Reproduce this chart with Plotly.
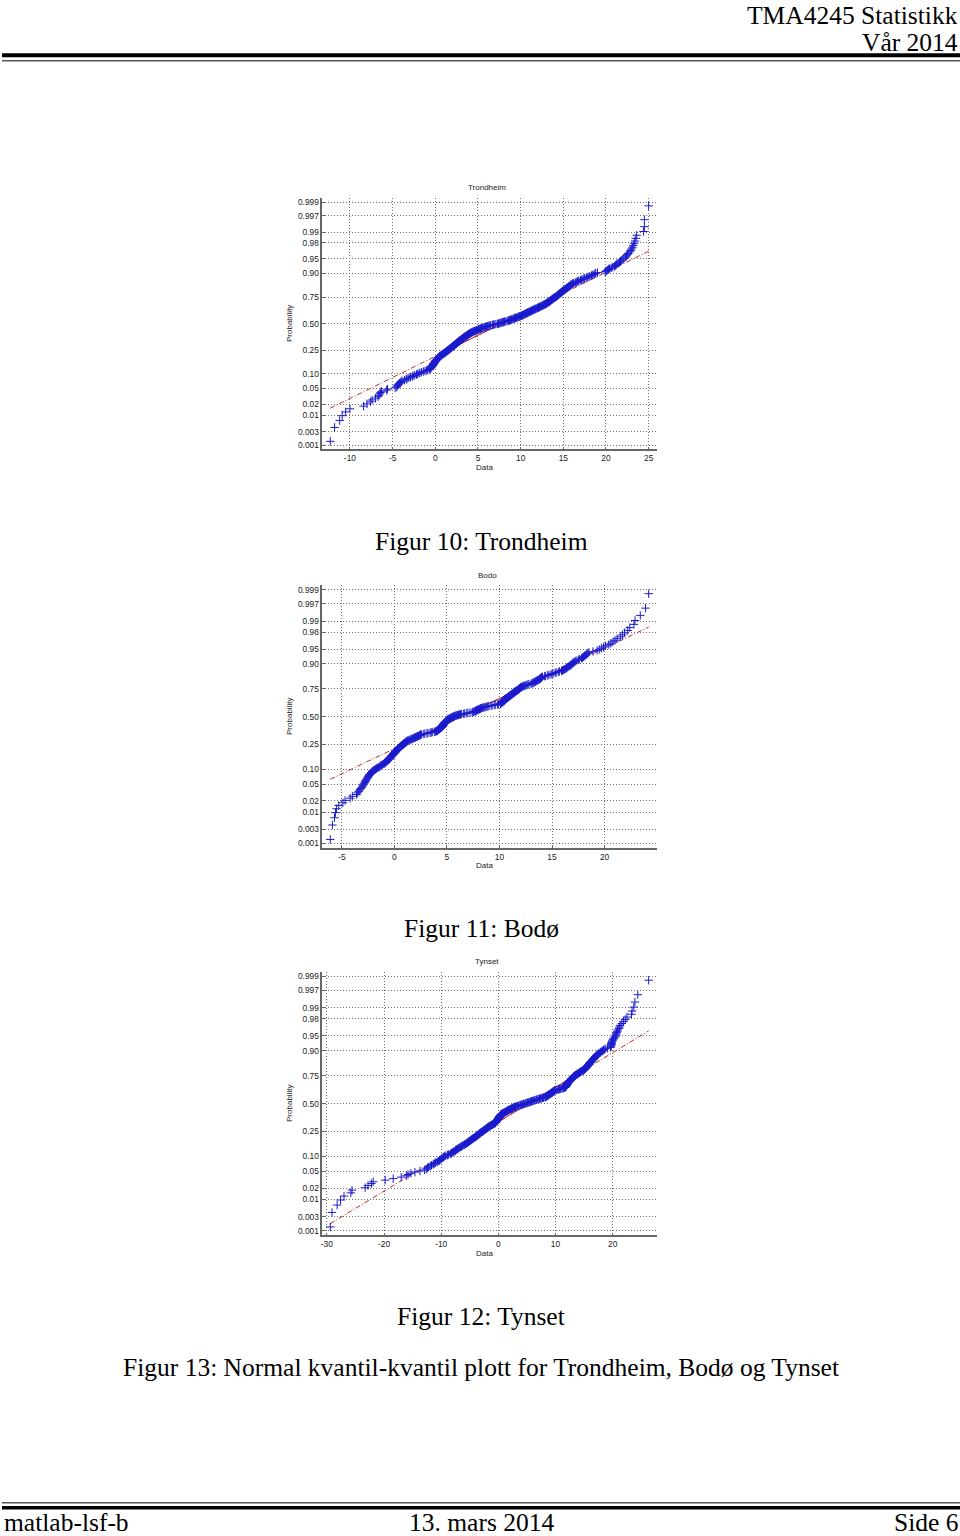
import numpy as np
import plotly.graph_objects as go
from statistics import NormalDist

# ---------------- data (sorted daily values) ----------------
trondheim = [
    -12.3, -11.8, -11.2, -10.9, -10.5, -10.0, -8.4, -8.0, -7.6, -7.4,
    -7.0, -6.7, -6.6, -6.5, -6.4, -6.3, -5.7, -5.6, -4.7, -4.5,
    -4.5, -4.4, -4.3, -4.2, -4.1, -4.0, -3.9, -3.6, -3.4, -3.3,
    -3.1, -2.9, -2.7, -2.6, -2.4, -2.2, -2.1, -1.9, -1.8, -1.6,
    -1.4, -1.2, -1.0, -0.9, -0.7, -0.6, -0.6, -0.5, -0.5, -0.4,
    -0.4, -0.3, -0.3, -0.3, -0.2, -0.2, -0.2, -0.1, -0.1, -0.1,
    0.0, 0.0, 0.0, 0.1, 0.1, 0.2, 0.2, 0.3, 0.3, 0.3,
    0.4, 0.4, 0.5, 0.5, 0.5, 0.6, 0.7, 0.7, 0.8, 0.9,
    0.9, 1.0, 1.1, 1.1, 1.2, 1.2, 1.3, 1.3, 1.4, 1.4,
    1.5, 1.5, 1.6, 1.6, 1.7, 1.7, 1.8, 1.8, 1.9, 1.9,
    2.0, 2.0, 2.1, 2.1, 2.2, 2.2, 2.2, 2.3, 2.3, 2.4,
    2.4, 2.5, 2.5, 2.5, 2.6, 2.6, 2.7, 2.7, 2.8, 2.8,
    2.8, 2.9, 2.9, 3.0, 3.0, 3.1, 3.1, 3.2, 3.2, 3.3,
    3.3, 3.3, 3.4, 3.4, 3.5, 3.5, 3.6, 3.6, 3.7, 3.7,
    3.8, 3.8, 3.9, 3.9, 4.0, 4.0, 4.1, 4.1, 4.2, 4.2,
    4.3, 4.4, 4.4, 4.5, 4.6, 4.7, 4.8, 4.8, 4.9, 5.0,
    5.1, 5.1, 5.2, 5.3, 5.4, 5.4, 5.5, 5.6, 5.7, 5.8,
    5.9, 6.0, 6.1, 6.2, 6.3, 6.4, 6.5, 6.7, 6.8, 6.9,
    7.1, 7.3, 7.4, 7.5, 7.6, 7.7, 7.8, 7.9, 8.0, 8.1,
    8.2, 8.4, 8.5, 8.6, 8.7, 8.8, 8.8, 8.9, 9.0, 9.1,
    9.2, 9.3, 9.3, 9.4, 9.5, 9.6, 9.7, 9.8, 9.8, 9.9,
    10.0, 10.1, 10.2, 10.2, 10.3, 10.4, 10.4, 10.5, 10.6, 10.6,
    10.7, 10.8, 10.8, 10.9, 11.0, 11.0, 11.1, 11.2, 11.2, 11.3,
    11.4, 11.4, 11.5, 11.6, 11.7, 11.7, 11.8, 11.9, 12.0, 12.0,
    12.1, 12.2, 12.2, 12.3, 12.4, 12.5, 12.5, 12.6, 12.7, 12.7,
    12.8, 12.9, 12.9, 13.0, 13.0, 13.1, 13.2, 13.2, 13.3, 13.3,
    13.4, 13.4, 13.5, 13.5, 13.6, 13.6, 13.7, 13.7, 13.8, 13.8,
    13.9, 13.9, 14.0, 14.1, 14.1, 14.2, 14.2, 14.3, 14.3, 14.4,
    14.4, 14.5, 14.5, 14.6, 14.6, 14.7, 14.7, 14.8, 14.8, 14.9,
    14.9, 15.0, 15.1, 15.1, 15.2, 15.2, 15.3, 15.4, 15.4, 15.5,
    15.6, 15.6, 15.7, 15.8, 15.8, 15.9, 15.9, 16.0, 16.1, 16.2,
    16.4, 16.5, 16.6, 16.7, 16.8, 17.0, 17.1, 17.2, 17.4, 17.5,
    17.7, 17.8, 18.0, 18.1, 18.3, 18.4, 18.6, 18.7, 18.8, 19.0,
    19.9, 20.0, 20.1, 20.2, 20.3, 20.4, 20.6, 20.8, 21.0, 21.1,
    21.2, 21.3, 21.5, 21.6, 21.7, 21.8, 22.0, 22.1, 22.3, 22.4,
    22.5, 22.6, 22.8, 22.9, 23.0, 23.1, 23.2, 23.3, 23.4, 23.5,
    23.6, 24.4, 24.5, 24.5, 25.0,
]

bodo = [
    -6.1, -5.9, -5.7, -5.6, -5.5, -5.3, -4.9, -4.7, -4.2, -4.0,
    -3.6, -3.5, -3.4, -3.3, -3.2, -3.1, -3.0, -3.0, -2.9, -2.8,
    -2.8, -2.7, -2.7, -2.6, -2.6, -2.5, -2.5, -2.4, -2.4, -2.3,
    -2.2, -2.2, -2.1, -2.1, -2.0, -1.9, -1.8, -1.7, -1.6, -1.5,
    -1.4, -1.3, -1.3, -1.2, -1.1, -1.0, -0.9, -0.9, -0.8, -0.8,
    -0.7, -0.7, -0.6, -0.6, -0.5, -0.5, -0.4, -0.4, -0.4, -0.3,
    -0.3, -0.3, -0.2, -0.2, -0.1, -0.1, -0.1, 0.0, 0.0, 0.0,
    0.1, 0.1, 0.1, 0.1, 0.2, 0.2, 0.3, 0.3, 0.3, 0.4,
    0.4, 0.5, 0.5, 0.5, 0.6, 0.6, 0.7, 0.7, 0.7, 0.8,
    0.8, 0.9, 0.9, 0.9, 1.0, 1.0, 1.1, 1.1, 1.1, 1.2,
    1.2, 1.3, 1.3, 1.4, 1.5, 1.6, 1.6, 1.7, 1.8, 1.8,
    1.9, 2.0, 2.0, 2.1, 2.2, 2.2, 2.3, 2.4, 2.4, 2.5,
    2.5, 2.6, 2.8, 2.9, 3.1, 3.2, 3.4, 3.5, 3.6, 3.8,
    3.9, 4.0, 4.0, 4.1, 4.1, 4.1, 4.2, 4.2, 4.3, 4.3,
    4.3, 4.4, 4.4, 4.4, 4.5, 4.5, 4.5, 4.5, 4.6, 4.6,
    4.6, 4.6, 4.6, 4.7, 4.7, 4.7, 4.7, 4.7, 4.8, 4.8,
    4.8, 4.8, 4.8, 4.9, 4.9, 4.9, 5.0, 5.0, 5.0, 5.0,
    5.1, 5.1, 5.1, 5.2, 5.2, 5.3, 5.3, 5.4, 5.4, 5.5,
    5.5, 5.6, 5.6, 5.7, 5.7, 5.8, 5.9, 6.0, 6.1, 6.2,
    6.3, 6.4, 6.6, 6.7, 6.9, 7.0, 7.2, 7.4, 7.5, 7.5,
    7.6, 7.7, 7.7, 7.8, 7.8, 7.9, 7.9, 8.0, 8.1, 8.1,
    8.2, 8.2, 8.3, 8.4, 8.5, 8.6, 8.7, 8.8, 8.9, 9.0,
    9.2, 9.3, 9.5, 9.6, 9.8, 9.9, 10.1, 10.1, 10.1, 10.2,
    10.2, 10.2, 10.3, 10.3, 10.3, 10.4, 10.4, 10.4, 10.5, 10.5,
    10.5, 10.5, 10.6, 10.6, 10.6, 10.7, 10.7, 10.8, 10.8, 10.8,
    10.9, 10.9, 11.0, 11.0, 11.0, 11.1, 11.1, 11.2, 11.2, 11.2,
    11.3, 11.3, 11.4, 11.4, 11.4, 11.5, 11.5, 11.6, 11.6, 11.7,
    11.7, 11.8, 11.8, 11.9, 11.9, 11.9, 12.0, 12.0, 12.1, 12.1,
    12.2, 12.3, 12.4, 12.5, 12.6, 12.7, 12.8, 13.0, 13.1, 13.2,
    13.2, 13.3, 13.4, 13.4, 13.5, 13.6, 13.6, 13.7, 13.8, 13.8,
    13.9, 13.9, 14.0, 14.0, 14.1, 14.3, 14.4, 14.6, 14.7, 14.9,
    15.0, 15.1, 15.3, 15.4, 15.6, 15.7, 15.9, 16.0, 16.1, 16.2,
    16.3, 16.4, 16.4, 16.5, 16.6, 16.7, 16.8, 16.8, 16.9, 17.0,
    17.0, 17.1, 17.2, 17.3, 17.5, 17.6, 17.8, 17.9, 18.0, 18.1,
    18.2, 18.3, 18.4, 18.5, 18.9, 19.3, 19.5, 19.7, 19.9, 20.1,
    20.4, 20.6, 20.8, 21.0, 21.2, 21.5, 21.7, 21.9, 22.2, 22.4,
    22.8, 22.9, 23.4, 23.9, 24.2,
]

tynset = [
    -29.4, -29.1, -28.2, -27.6, -27.0, -25.8, -25.6, -23.3, -22.8, -22.2,
    -21.9, -19.8, -18.4, -17.0, -16.1, -15.8, -15.3, -14.6, -13.7, -12.9,
    -12.6, -12.4, -12.2, -11.9, -11.7, -11.4, -11.2, -11.0, -10.7, -10.5,
    -10.3, -10.2, -10.0, -9.9, -9.7, -9.6, -9.4, -9.2, -8.9, -8.7,
    -8.4, -8.2, -8.1, -7.9, -7.8, -7.6, -7.5, -7.4, -7.3, -7.1,
    -7.0, -6.9, -6.7, -6.6, -6.4, -6.3, -6.2, -6.0, -5.9, -5.7,
    -5.6, -5.5, -5.4, -5.3, -5.2, -5.1, -5.0, -4.9, -4.8, -4.7,
    -4.6, -4.5, -4.4, -4.3, -4.2, -4.1, -4.0, -3.9, -3.8, -3.7,
    -3.7, -3.6, -3.5, -3.4, -3.3, -3.2, -3.2, -3.1, -3.0, -2.9,
    -2.8, -2.7, -2.6, -2.6, -2.5, -2.4, -2.3, -2.2, -2.1, -2.1,
    -2.0, -1.9, -1.8, -1.8, -1.7, -1.6, -1.5, -1.4, -1.3, -1.2,
    -1.1, -1.0, -0.9, -0.8, -0.7, -0.6, -0.6, -0.5, -0.5, -0.4,
    -0.4, -0.4, -0.3, -0.3, -0.2, -0.2, -0.2, -0.1, -0.1, 0.0,
    0.0, 0.0, 0.1, 0.1, 0.1, 0.2, 0.2, 0.2, 0.3, 0.3,
    0.3, 0.4, 0.4, 0.5, 0.5, 0.5, 0.6, 0.7, 0.8, 0.9,
    1.0, 1.1, 1.2, 1.3, 1.4, 1.5, 1.5, 1.6, 1.7, 1.8,
    1.9, 2.0, 2.1, 2.2, 2.3, 2.4, 2.5, 2.6, 2.7, 2.8,
    2.9, 3.0, 3.2, 3.3, 3.5, 3.6, 3.8, 3.9, 4.1, 4.2,
    4.4, 4.5, 4.7, 4.8, 5.0, 5.1, 5.3, 5.4, 5.6, 5.7,
    5.8, 6.0, 6.1, 6.3, 6.4, 6.6, 6.7, 6.9, 7.1, 7.2,
    7.4, 7.6, 7.7, 7.9, 8.0, 8.2, 8.3, 8.4, 8.4, 8.5,
    8.6, 8.7, 8.8, 8.8, 8.9, 9.0, 9.1, 9.1, 9.2, 9.3,
    9.4, 9.4, 9.5, 9.6, 9.6, 9.7, 9.8, 9.8, 9.9, 10.1,
    10.3, 10.5, 10.7, 10.9, 11.1, 11.3, 11.4, 11.6, 11.7, 11.7,
    11.8, 11.8, 11.8, 11.9, 11.9, 11.9, 12.0, 12.0, 12.0, 12.1,
    12.1, 12.1, 12.2, 12.2, 12.2, 12.3, 12.4, 12.4, 12.5, 12.5,
    12.6, 12.7, 12.7, 12.8, 12.8, 12.9, 12.9, 13.0, 13.1, 13.1,
    13.2, 13.2, 13.3, 13.3, 13.4, 13.5, 13.6, 13.7, 13.8, 13.9,
    14.0, 14.1, 14.2, 14.3, 14.4, 14.5, 14.6, 14.8, 14.9, 15.0,
    15.0, 15.1, 15.2, 15.2, 15.3, 15.4, 15.4, 15.5, 15.6, 15.6,
    15.7, 15.8, 15.8, 15.9, 15.9, 16.0, 16.0, 16.1, 16.2, 16.3,
    16.4, 16.4, 16.5, 16.6, 16.7, 16.8, 16.8, 16.9, 17.0, 17.1,
    17.2, 17.2, 17.3, 17.5, 17.6, 17.8, 17.9, 18.1, 18.2, 18.4,
    18.5, 18.7, 19.1, 19.6, 19.7, 19.7, 19.7, 19.8, 19.8, 19.8,
    19.9, 19.9, 20.0, 20.1, 20.2, 20.4, 20.5, 20.6, 20.6, 20.7,
    20.8, 20.9, 21.1, 21.2, 21.3, 21.6, 21.9, 22.2, 22.5, 23.3,
    23.4, 23.7, 23.9, 24.4, 26.3,
]

series = [trondheim, bodo, tynset]
plot_titles = ["Trondheim", "Bodo", "Tynset"]
captions = ["Figur 10: Trondheim", "Figur 11: Bodø", "Figur 12: Tynset"]
main_caption = "Figur 13: Normal kvantil-kvantil plott for Trondheim, Bodø og Tynset"
x_ticks = [
    [-10, -5, 0, 5, 10, 15, 20, 25],
    [-5, 0, 5, 10, 15, 20],
    [-30, -20, -10, 0, 10, 20],
]
x_tick_labels = [[str(v) for v in t] for t in x_ticks]   # plain hyphen minus, as in MATLAB
prob_ticks = [0.001, 0.003, 0.01, 0.02, 0.05, 0.10, 0.25, 0.50,
              0.75, 0.90, 0.95, 0.98, 0.99, 0.997, 0.999]
prob_labels = ["0.001", "0.003", "0.01", "0.02", "0.05", "0.10", "0.25", "0.50",
               "0.75", "0.90", "0.95", "0.98", "0.99", "0.997", "0.999"]
header_texts = ["TMA4245 Statistikk", "Vår 2014"]
footer_texts = ["matlab-lsf-b", "13. mars 2014", "Side 6"]

# ---------------- layout (pixels on the 960x1536 page) ----------------
W, H = 960, 1536
AX_LEFT, AX_RIGHT = 321, 656
AX_BOXES = [(197, 449), (585, 848), (972, 1236)]   # (top, bottom)
CAPTION_Y = [541, 929, 1317]
MAIN_CAPTION_Y = 1368

SERIF = "Liberation Serif, Times New Roman, serif"
SANS = "Liberation Sans, Arial, sans-serif"
TXT = "#1a1a1a"
GRID = "#6e6e6e"
AXC = "#666666"
BLUE = "rgb(28,28,205)"
RED = "rgb(195,40,40)"
PAGE_FONT = 25.5

def px(x):
    return x / W

def py(y):
    return 1 - y / H

nd = NormalDist()
fig = go.Figure()
annotations = []

for i, (vals, title) in enumerate(zip(series, plot_titles)):
    k = "" if i == 0 else str(i + 1)
    data = np.sort(np.array(vals, dtype=float))
    n = len(data)
    z = np.array([nd.inv_cdf((j - 0.5) / n) for j in range(1, n + 1)])

    q1, q3 = np.percentile(data, [25, 75], method="hazen")
    zq1, zq3 = nd.inv_cdf(0.25), nd.inv_cdf(0.75)
    slope = (zq3 - zq1) / (q3 - q1)
    line_z = lambda x: zq1 + slope * (x - q1)
    xmin, xmax = data.min(), data.max()
    rng = xmax - xmin

    # reference lines (dash-dot over full range, solid between quartiles)
    fig.add_trace(go.Scatter(
        x=[xmin, xmax], y=[line_z(xmin), line_z(xmax)], mode="lines",
        line=dict(color=RED, width=1, dash="5px,2px,1px,2px"),
        xaxis="x" + k, yaxis="y" + k, hoverinfo="skip"))
    fig.add_trace(go.Scatter(
        x=[q1, q3], y=[zq1, zq3], mode="lines",
        line=dict(color=RED, width=1),
        xaxis="x" + k, yaxis="y" + k, hoverinfo="skip"))
    # data markers
    fig.add_trace(go.Scatter(
        x=data, y=z, mode="markers",
        marker=dict(symbol="cross-thin-open", size=6,
                    line=dict(width=1, color=BLUE), color=BLUE),
        xaxis="x" + k, yaxis="y" + k))

    top, bottom = AX_BOXES[i]
    axfont = dict(family=SANS, size=8.4, color=TXT)
    fig.layout["xaxis" + k] = dict(
        domain=[px(AX_LEFT), px(AX_RIGHT)], anchor="y" + k,
        range=[xmin - 0.025 * rng, xmax + 0.025 * rng],
        tickmode="array", tickvals=x_ticks[i], ticktext=x_tick_labels[i], tickfont=axfont,
        showgrid=True, gridcolor=GRID, gridwidth=1, griddash="1px,2px",
        zeroline=False, showline=True, linecolor=AXC, linewidth=1.5,
        ticks="inside", ticklen=3, tickcolor=AXC, mirror=False)
    fig.layout["yaxis" + k] = dict(
        domain=[py(bottom), py(top)], anchor="x" + k,
        range=[nd.inv_cdf(0.25 / n), nd.inv_cdf((n - 0.25) / n)],
        tickmode="array", tickvals=[nd.inv_cdf(p) for p in prob_ticks],
        ticktext=prob_labels, tickfont=axfont,
        showgrid=True, gridcolor=GRID, gridwidth=1, griddash="1px,2px",
        zeroline=False, showline=True, linecolor=AXC, linewidth=1.5,
        ticks="inside", ticklen=3, tickcolor=AXC, mirror=False)

    cx = (AX_LEFT + AX_RIGHT) / 2 - 2
    annotations += [
        dict(text=title, x=px(cx), y=py(top - 10), font=dict(family=SANS, size=8, color=TXT)),
        dict(text="Data", x=px(cx - 3), y=py(bottom + 18), font=dict(family=SANS, size=8, color=TXT)),
        dict(text="Probability", x=px(288), y=py((top + bottom) / 2), textangle=-90,
             font=dict(family=SANS, size=8, color=TXT)),
        dict(text=captions[i], x=px(480), y=py(CAPTION_Y[i]),
             font=dict(family=SERIF, size=PAGE_FONT, color="black")),
    ]

page_font = dict(family=SERIF, size=PAGE_FONT, color="black")
annotations += [
    dict(text=main_caption, x=px(480), y=py(MAIN_CAPTION_Y), font=page_font),
    # header: two stacked boxes of fixed height so they do not overlap
    dict(text=header_texts[0], x=px(959), y=py(0), xanchor="right", yanchor="top",
         height=26, valign="middle", borderpad=0, font=page_font),
    dict(text=header_texts[1], x=px(959), y=py(27), xanchor="right", yanchor="top",
         height=26, valign="middle", borderpad=0, font=page_font),
    # footer row
    dict(text=footer_texts[0], x=px(1), y=py(1536), xanchor="left", yanchor="bottom",
         height=24, valign="middle", borderpad=0, font=page_font),
    dict(text=footer_texts[1], x=px(480), y=py(1536), yanchor="bottom",
         height=24, valign="middle", borderpad=0, font=page_font),
    dict(text=footer_texts[2], x=px(959), y=py(1536), xanchor="right", yanchor="bottom",
         height=24, valign="middle", borderpad=0, font=page_font),
]
for a in annotations:
    a.setdefault("xanchor", "center")
    a.setdefault("yanchor", "middle")
    a.update(xref="paper", yref="paper", showarrow=False)

shapes = [
    dict(type="line", x0=0, x1=1, y0=py(54.2), y1=py(54.2), line=dict(color="black", width=4)),
    dict(type="line", x0=0, x1=1, y0=py(59.8), y1=py(59.8), line=dict(color="#555555", width=1.5)),
    dict(type="line", x0=0, x1=1, y0=py(1503.8), y1=py(1503.8), line=dict(color="#555555", width=1.5)),
    dict(type="line", x0=0, x1=1, y0=py(1508.7), y1=py(1508.7), line=dict(color="black", width=3.5)),
]
for s in shapes:
    s.update(xref="paper", yref="paper")

fig.update_layout(
    width=W, height=H, margin=dict(l=0, r=0, t=0, b=0),
    paper_bgcolor="white", plot_bgcolor="white",
    showlegend=False, annotations=annotations, shapes=shapes,
)

fig.write_html(
    "out.html",
    config={"displayModeBar": False},
    post_script="document.documentElement.style.margin='0';"
                "document.body.style.margin='0';"
                "document.body.style.padding='0';"
                "document.body.style.overflow='hidden';",
)
